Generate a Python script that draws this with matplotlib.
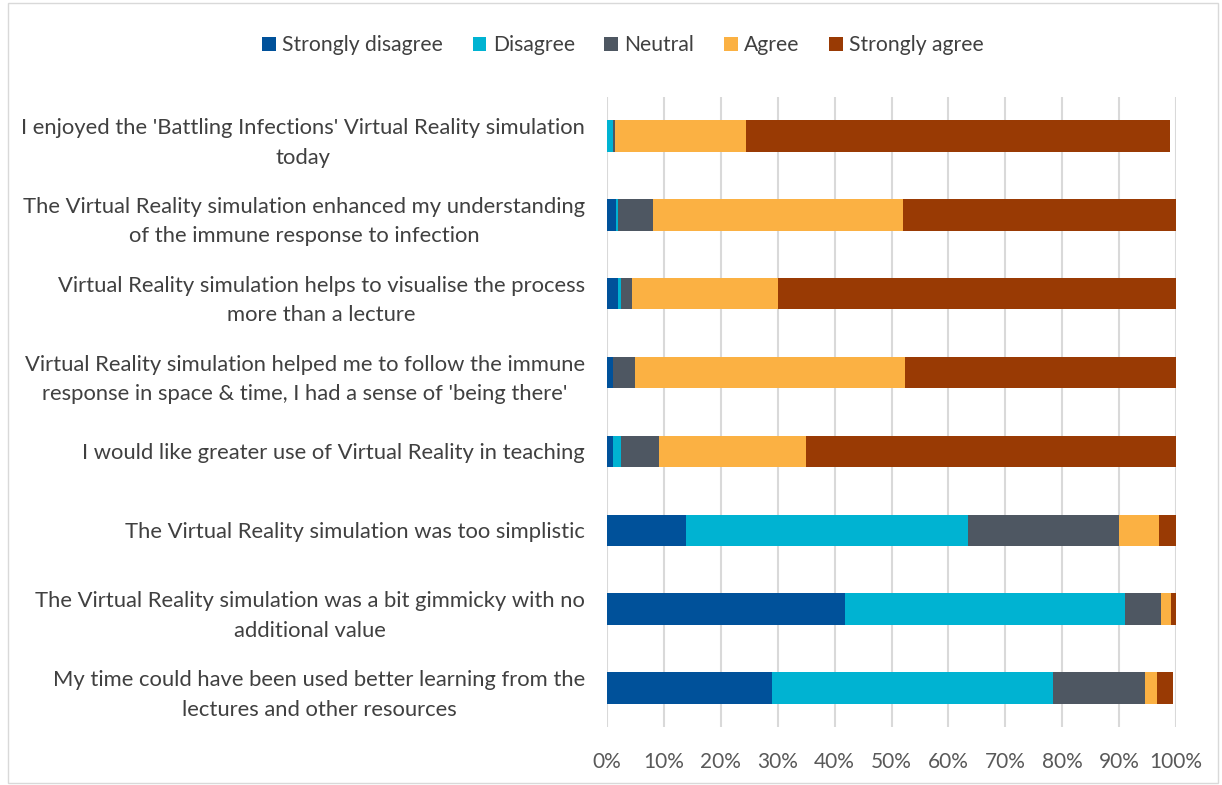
import matplotlib
matplotlib.use("Agg")
import matplotlib.pyplot as plt
from matplotlib.patches import Rectangle
import numpy as np

categories = [
    "I enjoyed the 'Battling Infections' Virtual Reality simulation\ntoday",
    "The Virtual Reality simulation enhanced my understanding\nof the immune response to infection",
    "Virtual Reality simulation helps to visualise the process\nmore than a lecture",
    "Virtual Reality simulation helped me to follow the immune\nresponse in space & time, I had a sense of 'being there'",
    "I would like greater use of Virtual Reality in teaching",
    "The Virtual Reality simulation was too simplistic",
    "The Virtual Reality simulation was a bit gimmicky with no\nadditional value",
    "My time could have been used better learning from the\nlectures and other resources",
]
series_names = ["Strongly disagree", "Disagree", "Neutral", "Agree", "Strongly agree"]
strongly_disagree = [0.0, 1.5, 1.9, 1.0, 1.0, 13.8, 41.8, 29.0]
disagree = [1.0, 0.5, 0.5, 0.0, 1.5, 49.7, 49.2, 49.4]
neutral = [0.4, 6.0, 2.0, 3.9, 6.6, 26.4, 6.4, 16.1]
agree = [23.1, 44.0, 25.6, 47.5, 25.9, 7.1, 1.7, 2.1]
strongly_agree = [74.5, 48.0, 70.0, 47.6, 65.0, 3.0, 0.9, 2.9]
tick_values = [0, 10, 20, 30, 40, 50, 60, 70, 80, 90, 100]
tick_labels = [f"{v}%" for v in tick_values]

colors = ["#00519A", "#00B3D2", "#4E5762", "#FBB143", "#993A04"]

plt.rcParams['font.family'] = ['Lato', 'DejaVu Sans']

fig = plt.figure(figsize=(12.22, 7.85), dpi=100)
ax = fig.add_axes([607/1222, 1-727.4/785, (1176-607)/1222, (727.4-96.6)/785])

y = np.arange(len(categories))
left = np.zeros(len(categories))
data = [strongly_disagree, disagree, neutral, agree, strongly_agree]
for name, vals, c in zip(series_names, data, colors):
    vals = np.array(vals)
    ax.barh(y, vals, left=left, height=0.4, color=c, label=name, zorder=3)
    left += vals

ax.set_xlim(0, 100)
ax.set_ylim(len(categories)-0.5, -0.5)
ax.set_xticks(tick_values)
ax.set_xticklabels(tick_labels)
ax.set_yticks(y)
ax.set_yticklabels(categories, fontsize=15.8, color="#404040", linespacing=1.6)
ax.tick_params(axis='x', length=0, pad=18, labelsize=15, labelcolor="#595959")
ax.tick_params(axis='y', length=0, pad=15.8)
for lbl in ax.get_yticklabels():
    lbl.set_horizontalalignment('right')
    lbl.set_multialignment('center')
ax.grid(axis='x', color="#D9D9D9", linewidth=1.5, zorder=0)
for s in ax.spines.values():
    s.set_visible(False)

handles, labels = ax.get_legend_handles_labels()
fig.legend(handles, labels, loc='center', bbox_to_anchor=(623/1222, 1-45/785), ncol=5,
           frameon=False, fontsize=15.2, handlelength=0.65, handleheight=0.65,
           handletextpad=0.3, columnspacing=1.4, labelcolor="#404040")

fig.patches.append(Rectangle((8/1222, 2/785), 1210/1222, 780/785, transform=fig.transFigure,
                             fill=False, edgecolor="#D9D9D9", linewidth=1))

fig.savefig("out.png", dpi=100, facecolor="white")
